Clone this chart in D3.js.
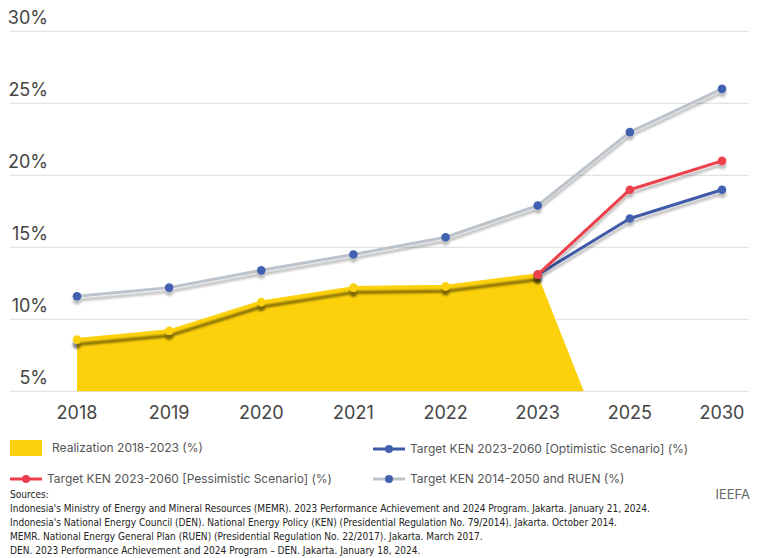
<!DOCTYPE html>
<html>
<head>
<meta charset="utf-8">
<script src="https://cdn.jsdelivr.net/npm/d3@7"></script>
<style>
  body { margin: 0; background: #fff; }
  svg { display: block; font-family: Inter, Roboto, sans-serif; }
</style>
</head>
<body>
<div id="chart"></div>
<script>
// data (share of renewables, %)
const years = ['2018', '2019', '2020', '2021', '2022', '2023', '2025', '2030']
const realization = [8.6, 9.2, 11.2, 12.2, 12.3, 13.1]
const ken2014 = [11.6, 12.2, 13.4, 14.5, 15.7, 17.9, 23.0, 26.0]
const optimistic = [null, null, null, null, null, 13.1, 17.0, 19.0]
const pessimistic = [null, null, null, null, null, 13.1, 19.0, 21.0]
const yTicks = [5, 10, 15, 20, 25, 30]
const sources = [
  "Indonesia's Ministry of Energy and Mineral Resources (MEMR). 2023 Performance Achievement and 2024 Program. Jakarta. January 21, 2024.",
  "Indonesia's National Energy Council (DEN). National Energy Policy (KEN) (Presidential Regulation No. 79/2014). Jakarta. October 2014.",
  "MEMR. National Energy General Plan (RUEN) (Presidential Regulation No. 22/2017). Jakarta. March 2017.",
  "DEN. 2023 Performance Achievement and 2024 Program \u2013 DEN. Jakarta. January 18, 2024."
]

const W = 768, H = 558
const svg = d3.select('#chart').append('svg')
  .attr('width', W)
  .attr('height', H)

const defs = svg.append('defs')
defs.append('filter').attr('id', 'shadow')
  .attr('x', '-10%').attr('y', '-20%').attr('width', '120%').attr('height', '160%')
  .append('feDropShadow')
  .attr('dx', 0).attr('dy', 4).attr('stdDeviation', 1.1)
  .attr('flood-color', '#000').attr('flood-opacity', 0.25)
defs.append('filter').attr('id', 'shadowDark')
  .attr('x', '-10%').attr('y', '-20%').attr('width', '120%').attr('height', '160%')
  .append('feDropShadow')
  .attr('dx', 0).attr('dy', 5).attr('stdDeviation', 1.1)
  .attr('flood-color', '#000').attr('flood-opacity', 0.5)

const xScale = d3.scalePoint()
  .domain(years)
  .range([77, 722])
const yScale = d3.scaleLinear()
  .domain([5, 30])
  .range([391.3, 31.3])

// gridlines + y labels
svg.append('g').selectAll('line')
  .data(yTicks)
  .enter()
  .append('line')
  .attr('x1', 10)
  .attr('x2', 749)
  .attr('y1', d => yScale(d))
  .attr('y2', d => yScale(d))
  .attr('stroke', '#e3e3e3')
  .attr('stroke-width', 1.3)

svg.append('g').selectAll('text')
  .data(yTicks)
  .enter()
  .append('text')
  .attr('x', 48)
  .attr('y', d => yScale(d) - 7)
  .attr('text-anchor', 'end')
  .attr('font-size', 18)
  .attr('fill', '#444')
  .text(d => d + '%')

svg.append('g').selectAll('text')
  .data(years)
  .enter()
  .append('text')
  .attr('x', d => xScale(d))
  .attr('y', 419)
  .attr('text-anchor', 'middle')
  .attr('font-size', 18)
  .attr('fill', '#444')
  .text(d => d)

// realization area: closes on the baseline half a step after 2023
const realPts = realization.map((v, i) => [xScale(years[i]), yScale(v)])
const lastX = xScale(years[realization.length - 1]) + xScale.step() / 2
const areaPts = [[realPts[0][0], yScale(5)]].concat(realPts, [[lastX, yScale(5)]])
svg.append('path')
  .attr('d', d3.line()(areaPts) + 'Z')
  .attr('fill', '#fcd10b')

const lineGen = d3.line()
  .defined(d => d[1] != null)
  .x(d => xScale(d[0]))
  .y(d => yScale(d[1]))

function drawSeries(values, lineColor, dotColor, filter) {
  const pts = values.map((v, i) => [years[i], v]).filter(d => d[1] != null)
  const g = svg.append('g').attr('filter', 'url(#' + filter + ')')
  g.append('path')
    .attr('d', lineGen(pts))
    .attr('fill', 'none')
    .attr('stroke', lineColor)
    .attr('stroke-width', 3)
    .attr('stroke-linejoin', 'round')
  g.selectAll('circle')
    .data(pts)
    .enter()
    .append('circle')
    .attr('cx', d => xScale(d[0]))
    .attr('cy', d => yScale(d[1]))
    .attr('r', 4.3)
    .attr('fill', dotColor)
}

drawSeries(realization, '#fcd10b', '#fcd10b', 'shadowDark')
drawSeries(ken2014, '#bdc3ca', '#4260b0', 'shadow')
drawSeries(optimistic, '#3f5aa8', '#4260b0', 'shadow')
drawSeries(pessimistic, '#ec3f4b', '#ec3f4b', 'shadow')

// legend
const legend = [
  { label: 'Realization 2018-2023 (%)', type: 'box', color: '#fcd10b', x: 10, y: 448 },
  { label: 'Target KEN 2023-2060 [Optimistic Scenario] (%)', type: 'line', color: '#3f5aa8', dot: '#4260b0', x: 373, y: 449 },
  { label: 'Target KEN 2023-2060 [Pessimistic Scenario] (%)', type: 'line', color: '#ec3f4b', dot: '#ec3f4b', x: 10, y: 479 },
  { label: 'Target KEN 2014-2050 and RUEN (%)', type: 'line', color: '#bdc3ca', dot: '#4260b0', x: 373, y: 479 }
]
const lg = svg.append('g').selectAll('g')
  .data(legend)
  .enter()
  .append('g')
  .attr('transform', d => `translate(${d.x}, ${d.y})`)
lg.filter(d => d.type === 'box').append('rect')
  .attr('x', 0).attr('y', -8).attr('width', 32).attr('height', 16)
  .attr('fill', d => d.color)
lg.filter(d => d.type === 'line').append('line')
  .attr('x1', 0).attr('x2', 32)
  .attr('stroke', d => d.color).attr('stroke-width', 3)
lg.filter(d => d.type === 'line').append('circle')
  .attr('cx', 16).attr('r', 4).attr('fill', d => d.dot)
lg.append('text')
  .attr('x', d => d.type === 'box' ? 42 : 37)
  .attr('y', 4.3)
  .attr('font-size', 12)
  .attr('fill', '#555')
  .text(d => d.label)

svg.append('text')
  .attr('x', 750)
  .attr('y', 499)
  .attr('text-anchor', 'end')
  .attr('font-size', 13)
  .attr('fill', '#666')
  .text('IEEFA')

// sources (condensed to match the narrow face of the original)
const src = svg.append('g')
  .attr('transform', 'translate(10, 0) scale(0.915, 1)')
  .attr('font-family', "'Liberation Sans Narrow', 'DejaVu Sans Condensed', sans-serif")
  .attr('font-size', 11)
  .attr('fill', '#222')
src.append('text').attr('x', 0).attr('y', 498).text('Sources:')
src.selectAll('text.s')
  .data(sources)
  .enter()
  .append('text')
  .attr('class', 's')
  .attr('x', 0)
  .attr('y', (d, i) => 512 + i * 14)
  .text(d => d)
</script>
</body>
</html>
